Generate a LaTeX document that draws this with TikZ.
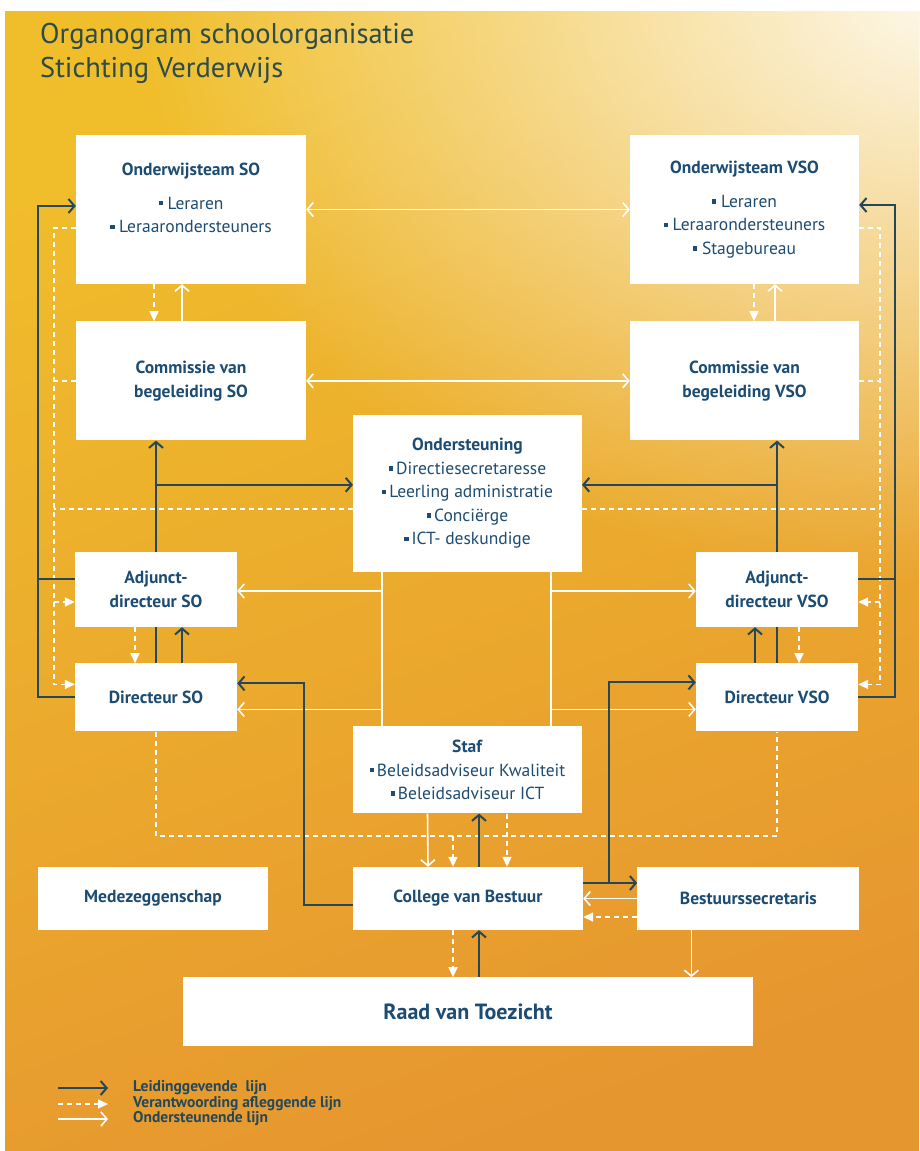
\documentclass[tikz,border=0pt]{standalone}
\usepackage{fontspec}
\setmainfont{PT Sans}
\usetikzlibrary{arrows.meta,calc,positioning,fadings}

\definecolor{bgyellow}{HTML}{F0BE2B}
\definecolor{bgorange}{HTML}{E6962F}
\definecolor{navy}{HTML}{1D4C72}
\definecolor{darkline}{HTML}{24485A}
\definecolor{titlegreen}{HTML}{2C4B49}

\tikzfading[name=glow, inner color=transparent!0, outer color=transparent!100]

\newcommand{\bul}{\rule[0.22em]{0.25em}{0.25em}}

\tikzset{
  >={Straight Barb[length=6pt,width=14pt]},
  box/.style={fill=white, text=navy, align=center, inner sep=2pt,
    font=\fontsize{17.5}{23.5}\selectfont},
  lead/.style={draw=darkline, line width=2pt, ->},
  leadline/.style={draw=darkline, line width=2pt},
  supp/.style={draw=white, line width=1.6pt, ->},
  suppline/.style={draw=white, line width=1.6pt},
  acc/.style={draw=white, line width=1.6pt, dash pattern=on 5pt off 4pt,
    -{Triangle[length=10pt,width=9pt]}},
  accline/.style={draw=white, line width=1.6pt, dash pattern=on 5pt off 4pt},
  legend/.style={text=darkline, inner sep=0pt, font=\fontsize{15.5}{17}\selectfont\bfseries},
}

\begin{document}
\begin{tikzpicture}[x=1pt,y=-1pt]
\useasboundingbox (0,0) rectangle (919,1151);
\fill[white] (0,0) rectangle (919,1151);
\begin{scope}
  \clip (5,11) rectangle (919,1151);
  \shade[top color=bgyellow, bottom color=bgorange, shading angle=20] (5,11) rectangle (919,1151);
  \fill[white, path fading=glow, fill opacity=0.9] (940,0) ellipse (800 and 580);
\end{scope}

% title
\node[anchor=base west, inner sep=0pt, text=titlegreen, font=\fontsize{28.5}{34}\selectfont] (title_a) at (40,43) {Organogram schoolorganisatie};
\node[anchor=base west, inner sep=0pt, text=titlegreen, font=\fontsize{28.5}{34}\selectfont] (title_b) at (40,77) {Stichting Verderwijs};

% SO column
\node[box, minimum width=230, minimum height=149] (ow_so) at (191,209.5)
  {\textbf{Onderwijsteam SO}\\[10.5pt] \bul\ Leraren\\ \bul\ Leraarondersteuners\\ \mbox{}};
\node[box, minimum width=230, minimum height=119, below=37pt of ow_so] (cm_so)
  {\textbf{Commissie van}\\ \textbf{begeleiding SO}};
\node[box, minimum width=162, minimum height=75] (adj_so) at (156,589.5)
  {\textbf{Adjunct-}\\ \textbf{directeur SO}};
\node[box, minimum width=162, minimum height=68, below=36pt of adj_so] (dir_so)
  {\textbf{Directeur SO}};

% VSO column
\node[box, minimum width=229, minimum height=149] (ow_vso) at (744.5,209.5)
  {\textbf{Onderwijsteam VSO}\\[10.5pt] \bul\ Leraren\\ \bul\ Leraarondersteuners\\ \bul\ Stagebureau};
\node[box, minimum width=229, minimum height=119, below=37pt of ow_vso] (cm_vso)
  {\textbf{Commissie van}\\ \textbf{begeleiding VSO}};
\node[box, minimum width=162, minimum height=75] (adj_vso) at (777,589.5)
  {\textbf{Adjunct-}\\ \textbf{directeur VSO}};
\node[box, minimum width=162, minimum height=68, below=36pt of adj_vso] (dir_vso)
  {\textbf{Directeur VSO}};

% middle
\node[box, minimum width=229, minimum height=157] (onder) at (467.5,493.5)
  {\textbf{Ondersteuning}\\ \bul\,Directiesecretaresse\\ \bul\,Leerling administratie\\ \bul\,Conciërge\\ \bul\,ICT- deskundige};
\node[box, minimum width=229, minimum height=87, below=154pt of onder] (staf)
  {\textbf{Staf}\\ \bul\,Beleidsadviseur Kwaliteit\\ \bul\,Beleidsadviseur ICT};
\node[box, minimum width=230, minimum height=63] (college) at (468,898.5)
  {\textbf{College van Bestuur}};
\node[box, minimum width=222, minimum height=63, right=54pt of college] (bestsec)
  {\textbf{Bestuurssecretaris}};
\node[box, minimum width=230, minimum height=63] (medez) at (153,898.5)
  {\textbf{Medezeggenschap}};
\node[box, minimum width=570, minimum height=69, below=47pt of college, font=\fontsize{22}{26}\selectfont] (raad)
  {\textbf{Raad van Toezicht}};

% verantwoording (dashed)
\draw[acc] ($(ow_so.west)+(0,18.5)$) -- ++(-22,0) |- ($(dir_so.west)+(0,-13)$);
\draw[accline] (cm_so.west) -- ++(-21,0);
\draw[accline] ($(onder.west)+(0,15.5)$) -- ++(-299,0);
\draw[acc] ($(adj_so.west)+(-21,12.5)$) -- ++(21,0);
\draw[acc] ($(ow_vso.east)+(0,18.5)$) -- ++(21,0) |- ($(dir_vso.east)+(0,-13)$);
\draw[accline] (cm_vso.east) -- ++(21,0);
\draw[accline] ($(onder.east)+(0,15.5)$) -- ++(298,0);
\draw[acc] ($(adj_vso.east)+(22,12.5)$) -- ++(-22,0);
\draw[acc] ($(ow_so.south)+(-37,0)$) -- ($(cm_so.north)+(-37,0)$);
\draw[acc] ($(ow_vso.south)+(9.5,0)$) -- ($(cm_vso.north)+(9.5,0)$);
\draw[acc] ($(adj_so.south)+(-21,0)$) -- ($(dir_so.north)+(-21,0)$);
\draw[acc] ($(adj_vso.south)+(22,0)$) -- ($(dir_vso.north)+(22,0)$);
\draw[accline] (dir_so.south) |- ($(college.north)+(-15,-31)$) -| (dir_vso.south);
\draw[acc] ($(college.north)+(-15,-31)$) -- ($(college.north)+(-15,0)$);
\draw[acc] ($(staf.south)+(39.5,0)$) -- ($(college.north)+(39,0)$);
\draw[acc] ($(bestsec.west)+(0,18.5)$) -- ($(college.east)+(0,18.5)$);
\draw[acc] ($(college.south)+(-15,0)$) -- ($(raad.north)+(-15,0)$);

% ondersteunend (white)
\draw[supp, <->] (ow_so.east) -- (ow_vso.west);
\draw[supp, <->] (cm_so.east) -- (cm_vso.west);
\draw[supp] ($(cm_so.north)+(-9,0)$) -- ($(ow_so.south)+(-9,0)$);
\draw[supp] ($(cm_vso.north)+(30.5,0)$) -- ($(ow_vso.south)+(30.5,0)$);
\draw[suppline] ($(onder.south)+(-85.5,0)$) -- ($(staf.north)+(-85.5,0)$);
\draw[suppline] ($(onder.south)+(83.5,0)$) -- ($(staf.north)+(83.5,0)$);
\draw[supp] ($(adj_so.east)+(145,1.5)$) -- ++(-145,0);
\draw[supp] ($(dir_so.east)+(145,12)$) -- ++(-145,0);
\draw[supp] ($(adj_vso.west)+(-145,1.5)$) -- ++(145,0);
\draw[supp] ($(dir_vso.west)+(-145,12)$) -- ++(145,0);
\draw[supp] ($(staf.south)+(-40,0)$) -- ($(college.north)+(-40,0)$);
\draw[supp] (bestsec.west) -- (college.east);
\draw[supp] ($(bestsec.south)+(-57,0)$) -- ($(bestsec.south)+(-57,47)$);

% leidinggevend (dark)
\draw[lead] (dir_so.west) -- ++(-37,0) |- ($(ow_so.west)+(0,-3.5)$);
\draw[leadline] ($(adj_so.west)+(0,-10.5)$) -- ++(-37,0);
\draw[leadline] (dir_so.north) -- (adj_so.south);
\draw[lead] (adj_so.north) -- (cm_so.south -| adj_so.north);
\draw[lead] ($(adj_so.north)+(0,-67)$) -- ++(197,0);
\draw[lead] ($(dir_so.north)+(26,0)$) -- ($(adj_so.south)+(26,0)$);
\draw[lead] (dir_vso.east) -- ++(37,0) |- ($(ow_vso.east)+(0,-4.5)$);
\draw[leadline] ($(adj_vso.east)+(0,-10.5)$) -- ++(37,0);
\draw[leadline] (dir_vso.north) -- (adj_vso.south);
\draw[lead] (adj_vso.north) -- (cm_vso.south -| adj_vso.north);
\draw[lead] ($(adj_vso.north)+(0,-67)$) -- ++(-195,0);
\draw[lead] ($(dir_vso.north)+(-22,0)$) -- ($(adj_vso.south)+(-22,0)$);
\draw[lead] ($(college.west)+(0,6.5)$) -| ($(dir_so.east)+(67,-14)$) -- ++(-67,0);
\draw[lead] ($(college.east)+(0,-15.5)$) -- ($(bestsec.west)+(0,-15.5)$);
\draw[lead] ($(college.east)+(26,-15.5)$) |- ($(dir_vso.west)+(0,-15)$);
\draw[lead] ($(college.north)+(11,0)$) -- ($(staf.south)+(11.5,0)$);
\draw[lead] ($(raad.north)+(11,0)$) -- ($(college.south)+(11,0)$);

% legend
\node[legend, anchor=west] (leg_lead) at (133,1088) {Leidinggevende\ \ lijn};
\node[legend, anchor=west] (leg_acc) at (133,1104) {Verantwoording afleggende lijn};
\node[legend, anchor=west] (leg_supp) at (133,1119) {Ondersteunende lijn};
\coordinate (lg_a) at (58,1088);
\coordinate (lg_b) at (58,1104);
\coordinate (lg_c) at (58,1119);
\draw[lead] (lg_a) -- ++(50,0);
\draw[acc] (lg_b) -- ++(50,0);
\draw[supp] (lg_c) -- ++(50,0);
\end{tikzpicture}
\end{document}
